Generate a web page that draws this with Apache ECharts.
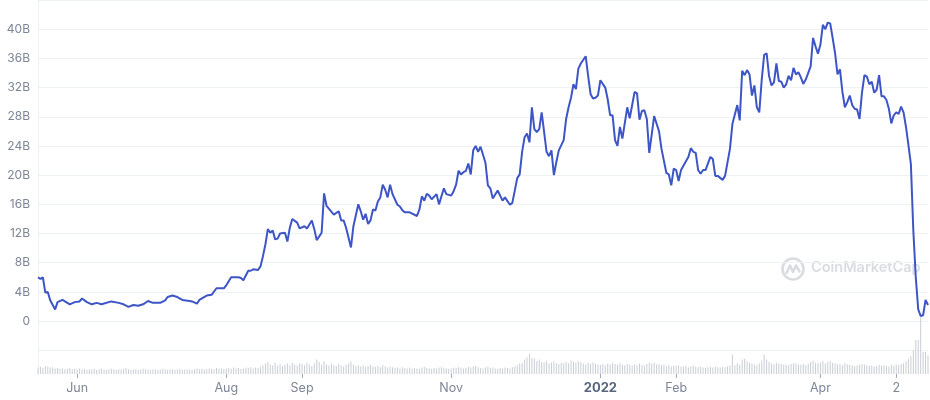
<!DOCTYPE html>
<html><head><meta charset="utf-8">
<script src="https://cdn.jsdelivr.net/npm/echarts@6/dist/echarts.min.js"></script>
<style>html,body{margin:0;padding:0;background:#fff}#c{width:930px;height:400px}</style>
</head><body><div id="c"></div>
<script>
// ---------- data ----------
const startDate = '2021-05-16';
const endDate = '2022-05-15';
const tickDates = ['2021-06-01','2021-08-01','2021-09-01','2021-11-01','2022-01-01','2022-02-01','2022-04-01','2022-05-02'];
const tickLabels = ['Jun','Aug','Sep','Nov','2022','Feb','Apr','2'];
const yTicks = [0,4,8,12,16,20,24,28,32,36,40];
const yTickLabels = ['0','4B','8B','12B','16B','20B','24B','28B','32B','36B','40B'];

// market cap (billions USD)
const marketCap2021H1 = [
 ['2021-05-16',6.0],['2021-05-17',5.8],['2021-05-18',6.0],['2021-05-19',3.9],['2021-05-20',4.0],['2021-05-21',2.85],
 ['2021-05-23',1.6],['2021-05-24',2.6],['2021-05-26',2.9],['2021-05-29',2.3],['2021-05-31',2.6],
 ['2021-06-02',2.7],['2021-06-03',3.1],['2021-06-05',2.6],['2021-06-07',2.3],['2021-06-09',2.5],['2021-06-11',2.3],
 ['2021-06-15',2.7],['2021-06-18',2.5],['2021-06-20',2.3],['2021-06-22',1.95],['2021-06-24',2.2],['2021-06-26',2.1],
 ['2021-06-28',2.3],['2021-06-30',2.75],
 ['2021-07-02',2.5],['2021-07-05',2.5],['2021-07-07',2.85],['2021-07-08',3.3],['2021-07-10',3.5],['2021-07-12',3.3],
 ['2021-07-14',2.9],['2021-07-17',2.75],['2021-07-18',2.7],['2021-07-20',2.4],['2021-07-21',2.9],['2021-07-24',3.5],
 ['2021-07-26',3.6],['2021-07-28',4.5],['2021-07-31',4.5]
];
const marketCap2021Q3 = [
 ['2021-08-01',4.9],['2021-08-03',6.0],['2021-08-06',6.0],['2021-08-07',5.9],['2021-08-08',5.6],['2021-08-10',6.9],
 ['2021-08-11',6.9],['2021-08-12',7.1],['2021-08-14',7.0],['2021-08-15',7.5],['2021-08-16',8.9],['2021-08-17',10.5],
 ['2021-08-18',12.6],['2021-08-19',12.1],['2021-08-20',12.4],['2021-08-21',11.2],['2021-08-22',11.3],['2021-08-23',12.0],
 ['2021-08-25',12.1],['2021-08-26',10.9],['2021-08-27',12.8],['2021-08-28',14.0],['2021-08-30',13.5],['2021-08-31',12.7],
 ['2021-09-02',13.0],['2021-09-03',12.7],['2021-09-05',13.8],['2021-09-06',12.6],['2021-09-07',11.1],['2021-09-09',12.1],
 ['2021-09-10',17.5],['2021-09-11',15.8],['2021-09-14',14.6],['2021-09-16',15.05],['2021-09-17',13.8],['2021-09-18',13.8],
 ['2021-09-19',12.8],['2021-09-21',10.1],['2021-09-22',13.0],['2021-09-24',16.0],['2021-09-25',15.05],['2021-09-26',13.9],
 ['2021-09-27',14.7],['2021-09-28',13.3],['2021-09-29',13.8],['2021-09-30',15.3]
];
const marketCap2021Q4 = [
 ['2021-10-01',15.15],['2021-10-02',16.4],['2021-10-03',16.95],['2021-10-04',18.7],['2021-10-05',18.0],['2021-10-06',16.95],
 ['2021-10-07',18.7],['2021-10-08',17.4],['2021-10-10',15.95],['2021-10-11',15.7],['2021-10-12',15.2],['2021-10-13',14.9],
 ['2021-10-15',14.9],['2021-10-18',14.4],['2021-10-19',15.3],['2021-10-20',17.1],['2021-10-21',16.5],['2021-10-22',17.45],
 ['2021-10-23',17.2],['2021-10-24',16.7],['2021-10-26',17.4],['2021-10-27',16.0],['2021-10-29',18.2],['2021-10-30',17.4],
 ['2021-11-01',17.2],['2021-11-02',17.8],['2021-11-03',18.7],['2021-11-04',20.6],['2021-11-05',20.1],['2021-11-06',20.4],
 ['2021-11-07',20.6],['2021-11-08',21.6],['2021-11-09',20.1],['2021-11-10',23.4],['2021-11-11',24.0],['2021-11-12',23.2],
 ['2021-11-13',23.9],['2021-11-15',21.7],['2021-11-16',18.6],['2021-11-17',18.2],['2021-11-18',16.8],['2021-11-20',17.9],
 ['2021-11-22',16.5],['2021-11-23',16.95],['2021-11-25',15.95],['2021-11-26',16.2],['2021-11-28',19.6],['2021-11-29',20.1],
 ['2021-11-30',23.2],
 ['2021-12-01',25.2],['2021-12-02',25.7],['2021-12-03',24.5],['2021-12-04',29.3],['2021-12-05',26.3],['2021-12-06',25.9],
 ['2021-12-07',26.3],['2021-12-08',28.6],['2021-12-09',25.9],['2021-12-10',23.2],['2021-12-11',22.6],['2021-12-12',23.4],
 ['2021-12-13',20.0],['2021-12-14',21.8],['2021-12-15',23.4],['2021-12-17',24.8],['2021-12-18',27.7],['2021-12-19',29.3],
 ['2021-12-20',30.6],['2021-12-21',32.45],['2021-12-22',31.8],['2021-12-23',34.6],['2021-12-24',35.3],['2021-12-26',36.3],
 ['2021-12-27',33.6],['2021-12-28',31.1],['2021-12-29',30.5],['2021-12-30',30.6],['2021-12-31',30.9]
];
const marketCap2022Q1 = [
 ['2022-01-01',33.0],['2022-01-03',32.0],['2022-01-04',30.4],['2022-01-05',28.2],['2022-01-06',28.2],['2022-01-07',24.8],
 ['2022-01-08',24.0],['2022-01-09',26.6],['2022-01-10',25.0],['2022-01-12',29.3],['2022-01-13',27.8],['2022-01-15',31.4],
 ['2022-01-16',31.2],['2022-01-17',27.6],['2022-01-18',28.8],['2022-01-19',28.9],['2022-01-20',27.7],['2022-01-21',23.05],
 ['2022-01-23',28.1],['2022-01-25',26.0],['2022-01-26',23.6],['2022-01-28',20.3],['2022-01-29',20.1],['2022-01-30',18.6],
 ['2022-01-31',20.9],
 ['2022-02-01',20.7],['2022-02-02',19.2],['2022-02-03',20.7],['2022-02-05',21.9],['2022-02-06',22.5],['2022-02-07',23.7],
 ['2022-02-08',23.2],['2022-02-09',23.05],['2022-02-10',20.7],['2022-02-11',20.2],['2022-02-12',20.7],['2022-02-13',20.7],
 ['2022-02-15',22.5],['2022-02-16',22.2],['2022-02-17',19.9],['2022-02-18',19.9],['2022-02-20',19.35],['2022-02-21',19.9],
 ['2022-02-23',23.6],['2022-02-24',27.0],['2022-02-26',29.6],['2022-02-27',27.5],['2022-02-28',34.3],
 ['2022-03-01',33.7],['2022-03-02',34.4],['2022-03-03',33.8],['2022-03-04',30.9],['2022-03-05',32.3],['2022-03-06',29.3],
 ['2022-03-07',28.6],['2022-03-08',33.1],['2022-03-09',36.5],['2022-03-10',36.7],['2022-03-11',33.6],['2022-03-12',32.3],
 ['2022-03-13',32.7],['2022-03-14',35.3],['2022-03-15',32.9],['2022-03-16',32.8],['2022-03-17',32.0],['2022-03-18',32.45],
 ['2022-03-19',33.6],['2022-03-20',33.0],['2022-03-21',34.7],['2022-03-22',33.8],['2022-03-23',34.1],['2022-03-24',33.4],
 ['2022-03-25',32.5],['2022-03-26',33.1],['2022-03-28',34.9],['2022-03-29',38.8],['2022-03-30',37.65],['2022-03-31',36.65]
];
const marketCap2022Q2 = [
 ['2022-04-01',37.9],['2022-04-02',40.6],['2022-04-03',40.0],['2022-04-04',40.9],['2022-04-05',40.8],['2022-04-06',38.8],
 ['2022-04-07',36.7],['2022-04-08',33.8],['2022-04-09',34.5],['2022-04-10',31.4],['2022-04-11',29.3],['2022-04-12',30.0],
 ['2022-04-13',30.9],['2022-04-14',29.6],['2022-04-15',29.1],['2022-04-16',29.0],['2022-04-17',27.7],['2022-04-18',31.3],
 ['2022-04-19',33.7],['2022-04-20',33.5],['2022-04-21',32.45],['2022-04-22',32.8],['2022-04-23',31.3],['2022-04-24',31.7],
 ['2022-04-25',33.7],['2022-04-26',30.8],['2022-04-27',30.8],['2022-04-28',30.3],['2022-04-29',29.1],['2022-04-30',27.1],
 ['2022-05-01',28.2],['2022-05-02',28.6],['2022-05-03',28.4],['2022-05-04',29.4],['2022-05-05',28.6],['2022-05-06',26.6],
 ['2022-05-07',24.1],['2022-05-08',21.5],['2022-05-09',12.4],['2022-05-10',6.0],['2022-05-11',1.6],['2022-05-12',0.7],
 ['2022-05-13',0.8],['2022-05-14',2.9],['2022-05-15',2.2]
];

// daily volume (billions USD), one value per day from startDate
const volMay21 = [1.6,1.8,1.5,2.0,1.9,1.6,1.7,1.4,1.5,1.3,1.4,1.2,1.3,1.5,1.2,1.3];
const volJun21 = [1.2,1.4,1.1,1.3,1.0,1.2,1.1,1.3,1.0,1.2,1.4,1.1,1.0,1.2,1.3,1.1,1.0,1.2,1.1,1.3,1.5,1.2,1.0,1.1,1.2,1.0,1.1,1.3,1.2,1.1];
const volJul21 = [1.0,1.1,1.2,1.0,1.1,1.3,1.2,1.0,1.1,1.2,1.0,1.1,1.3,1.0,1.1,1.2,1.1,1.0,1.2,1.4,1.2,1.3,1.1,1.2,1.4,1.3,1.2,1.5,1.3,1.4,1.2];
const volAug21 = [1.4,1.5,1.3,1.6,1.4,1.5,1.3,1.4,1.6,1.5,1.7,1.4,1.6,1.5,1.8,2.2,2.6,3.0,2.4,2.2,2.8,2.1,2.5,2.0,2.3,2.6,2.2,2.9,2.4,2.1,2.7];
const volSep21 = [2.5,2.2,2.8,2.4,2.0,2.6,3.6,3.0,2.3,3.2,2.4,2.1,2.6,2.2,2.0,2.5,2.1,1.9,2.3,2.6,3.1,2.4,2.0,2.2,1.9,2.1,1.8,2.0,2.3,1.9];
const volOct21 = [1.8,2.0,1.7,2.2,1.9,1.6,1.8,1.7,1.5,1.6,1.4,1.7,1.5,1.4,1.6,1.3,1.5,1.4,1.3,1.6,1.8,1.5,1.4,1.3,1.5,1.4,1.6,1.7,1.5,1.4,1.3];
const volNov21 = [1.4,1.6,1.5,1.7,1.6,1.4,1.5,1.8,1.6,1.9,2.0,1.7,1.5,1.4,1.6,1.8,1.5,1.6,1.4,1.3,1.5,1.4,1.6,1.5,1.4,1.7,1.9,2.2,2.6,2.8];
const volDec21 = [3.6,4.2,5.0,4.0,3.8,3.2,3.6,3.0,2.8,3.3,2.6,2.9,3.1,2.7,2.5,2.8,2.6,3.0,2.7,3.4,3.0,2.8,3.2,3.0,2.6,2.4,2.8,2.5,2.9,2.6,2.4];
const volJan22 = [2.3,2.5,2.2,2.6,2.4,2.8,2.5,2.3,2.6,2.4,2.2,2.5,2.3,2.1,2.4,2.2,2.6,2.3,2.1,2.5,2.9,2.6,2.8,2.4,2.5,2.2,2.3,2.0,2.2,1.9,2.1];
const volFeb22 = [2.0,2.2,1.9,1.8,2.0,1.7,1.9,2.1,1.8,1.7,1.9,1.6,1.5,1.7,1.8,1.6,1.9,1.7,1.6,1.8,1.7,1.9,2.1,4.8,2.2,2.6,2.3,3.6];
const volMar22 = [3.8,3.2,2.8,2.6,2.4,2.2,2.6,3.4,4.8,3.6,3.0,2.6,2.4,2.8,2.6,2.5,2.4,2.3,2.2,2.5,2.7,2.6,2.4,2.3,2.5,2.2,2.6,3.0,3.4,2.8,2.7];
const volApr22 = [2.9,3.2,2.6,3.0,3.3,2.8,2.6,2.4,2.5,2.2,2.7,2.4,2.3,2.2,2.0,2.1,2.3,2.5,2.4,2.2,2.0,2.1,1.9,2.0,2.3,2.1,2.2,2.0,1.9,2.3];
const volMay22 = [2.1,2.4,2.2,2.5,2.7,3.2,3.8,4.5,6.0,8.5,8.5,14.2,5.5,5.5,4.6];

// ---------- build ----------
function ts(s){ const p = s.split('-').map(Number); return new Date(p[0], p[1]-1, p[2]).getTime(); }
const t0 = ts(startDate), t1 = ts(endDate);
const tickTs = tickDates.map(ts);
const marketCap = [].concat(marketCap2021H1, marketCap2021Q3, marketCap2021Q4, marketCap2022Q1, marketCap2022Q2);
const lineData = marketCap.map(d => [ts(d[0]), d[1]]);
const volumes = [].concat(volMay21, volJun21, volJul21, volAug21, volSep21, volOct21, volNov21, volDec21, volJan22, volFeb22, volMar22, volApr22, volMay22);
const volData = volumes.map((v, i) => { const d = new Date(t0); d.setDate(d.getDate() + i); return [d.getTime(), v]; });

const chart = echarts.init(document.getElementById('c'), null, {renderer: 'canvas'});
const FONT = 'Inter, "Noto Sans", sans-serif';
function tickLabelFor(v) {
  let best = -1, bd = Infinity;
  tickTs.forEach((t, i) => { const dd = Math.abs(t - v); if (dd < bd) { bd = dd; best = i; } });
  if (best < 0 || bd > 43200000) return '';
  const lab = tickLabels[best];
  return lab === '2022' ? '{b|' + lab + '}' : lab;
}
chart.setOption({
  animation: false,
  backgroundColor: '#ffffff',
  grid: [
    {left: 38, right: 2, top: -3.2, bottom: 49.7},
    {left: 38, right: 2, top: 250, bottom: 26}
  ],
  xAxis: [
    {type: 'value', gridIndex: 0, min: t0, max: t1, show: false, splitLine: {show: false}},
    {type: 'value', gridIndex: 1, min: t0, max: t1, scale: true,
     axisLine: {show: false},
     axisTick: {show: true, customValues: tickTs, length: 4, lineStyle: {color: '#a3a9b6', width: 1}},
     splitLine: {show: false},
     axisLabel: {
       customValues: tickTs, margin: 8, color: '#7d8596', fontSize: 12.5, fontFamily: FONT,
       formatter: tickLabelFor,
       rich: {b: {fontWeight: 'bold', color: '#58667e', fontSize: 13, fontFamily: FONT}}
     }}
  ],
  yAxis: [
    {type: 'value', gridIndex: 0, min: -4, max: 44, interval: 4,
     axisLine: {show: true, lineStyle: {color: '#eff2f5'}},
     axisTick: {show: false},
     splitLine: {show: true, lineStyle: {color: '#eff2f5', width: 1}},
     axisLabel: {
       margin: 8, color: '#7d8596', fontSize: 12, fontFamily: FONT,
       formatter: function (v) { const i = yTicks.indexOf(v); return i < 0 ? '' : yTickLabels[i]; }
     }},
    {type: 'value', gridIndex: 1, min: 0, max: 31, show: true,
     axisLine: {show: true, lineStyle: {color: '#eff2f5'}},
     axisTick: {show: false}, axisLabel: {show: false}, splitLine: {show: false}}
  ],
  graphic: [
    {type: 'group', left: 780, top: 256, silent: true, z: 0, children: [
      {type: 'circle', shape: {cx: 12, cy: 12, r: 10.5}, style: {fill: 'none', stroke: '#d9dce1', lineWidth: 2.6}},
      {type: 'polyline', shape: {points: [[5.5,16],[9,8.5],[12,15],[15,8.5],[18.5,14.5]]}, style: {fill: 'none', stroke: '#d9dce1', lineWidth: 2.6, lineJoin: 'round', lineCap: 'round'}}
    ]},
    {type: 'text', left: 811, top: 260, silent: true, z: 0,
     style: {text: 'CoinMarketCap', fill: '#d9dce1', font: '600 14.5px ' + FONT}}
  ],
  series: [
    {type: 'bar', xAxisIndex: 1, yAxisIndex: 1, data: volData, barWidth: 1, barGap: 0,
     itemStyle: {color: '#c9cdd5'}, silent: true, z: 1},
    {type: 'line', xAxisIndex: 0, yAxisIndex: 0, data: lineData, showSymbol: false, symbol: 'none',
     lineStyle: {color: '#3d55c6', width: 2}, itemStyle: {color: '#3d55c6'}, z: 5, silent: true}
  ]
});
</script>
</body></html>
